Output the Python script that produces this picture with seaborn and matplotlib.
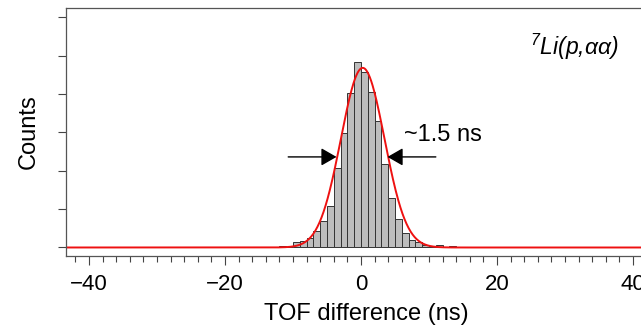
import numpy as np
import pandas as pd
import seaborn as sns
import matplotlib.pyplot as plt
from matplotlib.ticker import MultipleLocator

# histogram of TOF differences, 1 ns bins (left edges) and counts
bin_left = np.arange(-22, 18)
counts = [1, 0, 0, 1, 0, 1, 0, 1, 1, 1,
          3, 1, 14, 18, 24, 44, 70, 107, 208, 299,
          403, 482, 456, 405, 329, 218, 129, 75, 37, 20,
          14, 7, 5, 6, 2, 5, 1, 1, 0, 1]

# gaussian fit drawn in red
fit_amp = 468.0
fit_mu = 0.25
fit_sigma = 3.2

xlabel = 'TOF difference (ns)'
ylabel = 'Counts'
reaction = r'$^{7}$Li(p,αα)'
fwhm_text = '~1.5 ns'

sns.set_style('ticks')
plt.rcParams['font.family'] = ['Liberation Sans', 'DejaVu Sans']
plt.rcParams['mathtext.fontset'] = 'custom'
plt.rcParams['mathtext.rm'] = 'Liberation Sans:italic'
plt.rcParams['mathtext.it'] = 'Liberation Sans:italic'
plt.rcParams['text.color'] = 'black'
plt.rcParams['axes.labelcolor'] = 'black'
plt.rcParams['xtick.labelcolor'] = 'black'

df = pd.DataFrame({'tof': bin_left + 0.5, 'n': counts})

fig = plt.figure(figsize=(6.41, 3.25), dpi=100)
ax = fig.add_axes([0.1037, 0.2125, 0.937, 0.7629])

sns.histplot(data=df, x='tof', weights='n', binwidth=1,
             binrange=(bin_left[0], bin_left[-1] + 1), ax=ax,
             color='#bdbdbd', edgecolor='#333333', linewidth=0.7, alpha=1)

xs = np.linspace(-45, 45, 901)
fit = pd.DataFrame({'x': xs, 'y': fit_amp * np.exp(-(xs - fit_mu) ** 2 / (2 * fit_sigma ** 2))})
sns.lineplot(data=fit, x='x', y='y', ax=ax, color='#ee1111', linewidth=1.4)

ax.set_xlim(-43.3, 45)
ax.set_ylim(-22, 624)
ax.xaxis.set_major_locator(MultipleLocator(20))
ax.xaxis.set_minor_locator(MultipleLocator(2))
ax.yaxis.set_major_locator(MultipleLocator(100))
ax.set_yticklabels([])
ax.tick_params(axis='x', which='major', length=6.5, width=0.8, color='#444444', labelsize=16, pad=6.5)
ax.tick_params(axis='x', which='minor', length=4.5, width=0.8, color='#444444')
ax.tick_params(axis='y', which='major', length=6, width=0.8, color='#444444')
for s in ax.spines.values():
    s.set_visible(True)
    s.set_color('#555555')
    s.set_linewidth(0.9)

ax.set_xlabel(xlabel, fontsize=17, labelpad=6)
ax.set_ylabel(ylabel, fontsize=17, labelpad=9.5)

# FWHM arrows
hm = 236
arrow = dict(arrowstyle='-|>,head_length=0.47,head_width=0.27', mutation_scale=20,
             color='black', lw=1.0, shrinkA=0, shrinkB=0)
ax.annotate('', xy=(-3.6, hm), xytext=(-10.7, hm), arrowprops=arrow)
ax.annotate('', xy=(3.9, hm), xytext=(11.0, hm), arrowprops=arrow)
ax.text(6.3, 292, fwhm_text, fontsize=17, ha='left', va='center')
ax.text(24.9, 522, reaction, fontsize=16.5, style='italic', ha='left', va='center')

fig.savefig('out.png', dpi=100)
